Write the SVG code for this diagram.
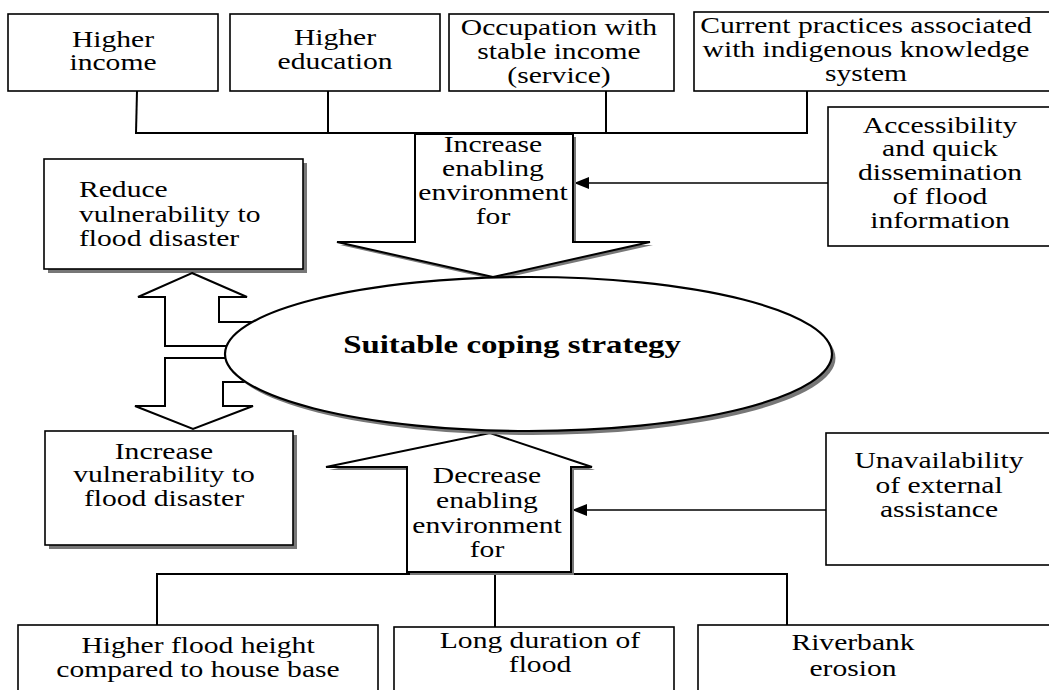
<svg xmlns="http://www.w3.org/2000/svg" width="1049" height="690" viewBox="0 0 1049 690">
<style>
.box{fill:#fff;stroke:#000;stroke-width:1.6}
.shadow{fill:#777;stroke:none}
.arr{fill:#fff;stroke:#000;stroke-width:2;stroke-linejoin:miter}
.ln{fill:none;stroke:#000;stroke-width:2}
.thin{fill:none;stroke:#000;stroke-width:1.3}
.t{font-family:"Liberation Serif","Times New Roman",serif;font-size:22.5px;fill:#000;text-anchor:middle}
.tl{text-anchor:start}
.b{font-weight:bold;font-size:25px}
</style>
<defs>
<marker id="ah" markerUnits="userSpaceOnUse" markerWidth="16" markerHeight="12" refX="15" refY="6" orient="auto">
<path d="M0,0 L15,6 L0,12 Z" fill="#000"/>
</marker>
</defs>
<rect width="1049" height="690" fill="#fff"/>

<g id="connectors">
<polyline class="ln" points="137,91 136,133"/>
<line class="ln" x1="328" y1="89" x2="328" y2="133"/>
<line class="ln" x1="606" y1="91" x2="606" y2="133"/>
<line class="ln" x1="807" y1="91" x2="807" y2="133"/>
<line class="ln" x1="135" y1="133" x2="808" y2="133"/>
<line class="thin" x1="828" y1="183" x2="574" y2="183" marker-end="url(#ah)"/>
<line class="thin" x1="826" y1="510" x2="572" y2="510" marker-end="url(#ah)"/>
<line class="ln" x1="156" y1="574" x2="788" y2="574"/>
<line class="ln" x1="157" y1="574" x2="157" y2="625"/>
<line class="ln" x1="495" y1="574" x2="495" y2="627"/>
<line class="ln" x1="787" y1="574" x2="787" y2="625"/>
</g>

<g id="n-higher-income">
<rect class="box" x="8" y="14" width="210" height="77"/>
<text class="t" transform="translate(113 0) scale(1.315 1)"><tspan x="0" y="47">Higher</tspan><tspan x="0" y="70">income</tspan></text>
</g>
<g id="n-higher-education">
<rect class="box" x="230" y="14" width="210" height="77"/>
<text class="t" transform="translate(335 0) scale(1.315 1)"><tspan x="0" y="45">Higher</tspan><tspan x="0" y="69">education</tspan></text>
</g>
<g id="n-occupation">
<rect class="box" x="449" y="14" width="225" height="77"/>
<text class="t" transform="translate(559 0) scale(1.315 1)"><tspan x="0" y="35">Occupation with</tspan><tspan x="0" y="59">stable income</tspan><tspan x="0" y="83">(service)</tspan></text>
</g>
<g id="n-current-practices">
<rect class="box" x="694" y="12" width="365" height="79"/>
<text class="t" transform="translate(866 0) scale(1.315 1)"><tspan x="0" y="33">Current practices associated</tspan><tspan x="0" y="57">with indigenous knowledge</tspan><tspan x="0" y="81">system</tspan></text>
</g>
<g id="n-accessibility">
<rect class="box" x="828" y="107" width="230" height="139"/>
<text class="t" transform="translate(940 0) scale(1.315 1)"><tspan x="0" y="133">Accessibility</tspan><tspan x="0" y="156">and quick</tspan><tspan x="0" y="180">dissemination</tspan><tspan x="0" y="204">of flood</tspan><tspan x="0" y="228">information</tspan></text>
</g>

<g id="n-increase-arrow">
<polygon class="shadow" points="418,137 576,137 576,245 653,245 496,280 340,245 418,245"/>
<polygon class="arr" points="415,134 573,134 573,242 650,242 493,277 337,242 415,242"/>
<text class="t" transform="translate(493 0) scale(1.315 1)"><tspan x="0" y="152">Increase</tspan><tspan x="0" y="176">enabling</tspan><tspan x="0" y="200">environment</tspan><tspan x="0" y="224">for</tspan></text>
</g>

<g id="n-reduce">
<rect class="shadow" x="48" y="163" width="259" height="110"/>
<rect class="box" x="44" y="159" width="259" height="110"/>
<text class="t tl" transform="translate(79 0) scale(1.315 1)"><tspan x="0" y="197">Reduce</tspan><tspan x="0" y="222">vulnerability to</tspan><tspan x="0" y="246">flood disaster</tspan></text>
</g>

<g id="n-decrease-arrow">
<polygon class="shadow" points="410,575 410,470 329,470 493,436 595,470 574,470 574,575"/>
<polygon class="arr" points="407,572 407,467 326,467 490,433 592,467 571,467 571,572"/>
<text class="t" transform="translate(487 0) scale(1.315 1)"><tspan x="0" y="483">Decrease</tspan><tspan x="0" y="508">enabling</tspan><tspan x="0" y="533">environment</tspan><tspan x="0" y="557">for</tspan></text>
</g>

<g id="n-double-arrow">
<polygon class="arr" points="192,273 247,297 219,297 219,322 265,322 265,346 165,346 165,297 138,297"/>
<polygon class="arr" points="165,358 268,358 268,382 223,382 223,406 253,406 193,429 135,406 165,406"/>
</g>

<g id="n-suitable">
<ellipse class="shadow" cx="532" cy="358" rx="303.5" ry="77"/>
<ellipse cx="528.5" cy="354" rx="303.5" ry="77" fill="#fff" stroke="#000" stroke-width="2.2"/>
<text class="t b" transform="translate(512 0) scale(1.315 1)"><tspan x="0" y="353">Suitable coping strategy</tspan></text>
</g>

<g id="n-increase-vuln">
<rect class="shadow" x="49" y="435" width="248" height="114"/>
<rect class="box" x="45" y="431" width="248" height="114"/>
<text class="t" transform="translate(164 0) scale(1.315 1)"><tspan x="0" y="459">Increase</tspan><tspan x="0" y="482">vulnerability to</tspan><tspan x="0" y="506">flood disaster</tspan></text>
</g>

<g id="n-unavailability">
<rect class="box" x="826" y="433" width="232" height="132"/>
<text class="t" transform="translate(939 0) scale(1.315 1)"><tspan x="0" y="468">Unavailability</tspan><tspan x="0" y="493">of external</tspan><tspan x="0" y="517">assistance</tspan></text>
</g>

<g id="n-higher-flood">
<rect class="box" x="18" y="625" width="360" height="75"/>
<text class="t" transform="translate(198 0) scale(1.315 1)"><tspan x="0" y="653">Higher flood height</tspan><tspan x="0" y="677">compared to house base</tspan></text>
</g>
<g id="n-long-duration">
<rect class="box" x="394" y="627" width="280" height="75"/>
<text class="t" transform="translate(540 0) scale(1.315 1)"><tspan x="0" y="648">Long duration of</tspan><tspan x="0" y="672">flood</tspan></text>
</g>
<g id="n-riverbank">
<rect class="box" x="698" y="625" width="362" height="75"/>
<text class="t" transform="translate(853 0) scale(1.315 1)"><tspan x="0" y="650">Riverbank</tspan><tspan x="0" y="676">erosion</tspan></text>
</g>
</svg>
